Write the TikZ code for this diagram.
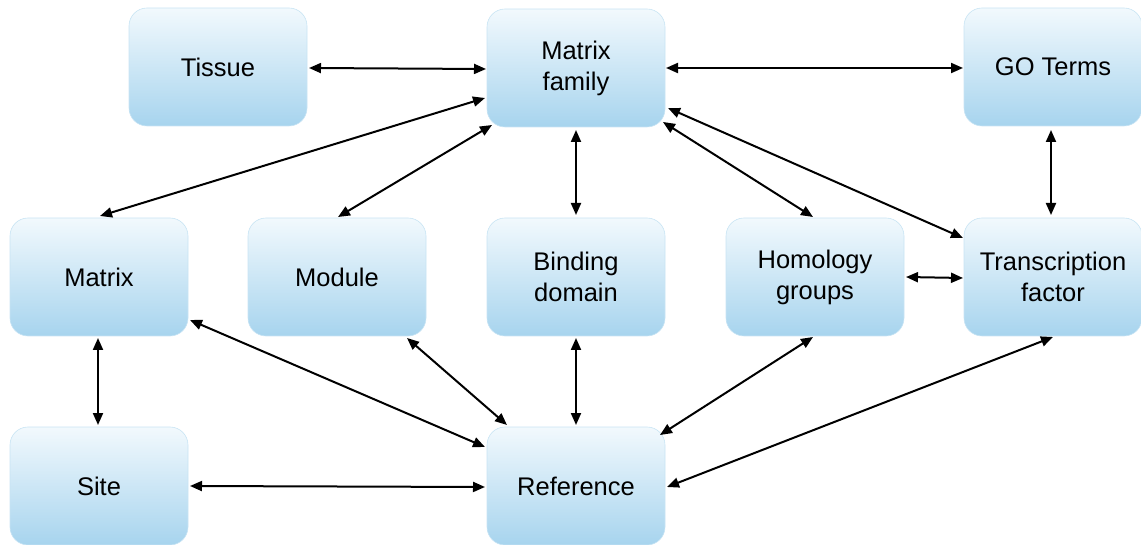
\documentclass[tikz,border=0pt]{standalone}
\usepackage{fontspec}
\setmainfont{Liberation Sans}
\usetikzlibrary{calc,arrows.meta}
\definecolor{boxtop}{HTML}{F2F9FD}
\definecolor{boxbot}{HTML}{A7D4EE}
\definecolor{boxline}{HTML}{C8E4F4}
\begin{document}
\begin{tikzpicture}[x=1pt,y=-1pt,
  entity/.style={rectangle, rounded corners=18pt, minimum width=178pt, minimum height=118pt,
    top color=boxtop, bottom color=boxbot, draw=boxline, line width=0.6pt,
    align=center, font=\fontsize{25.5}{31}\selectfont, text=black},
  link/.style={line width=2pt, {Triangle[length=12pt,width=10pt]}-{Triangle[length=12pt,width=10pt]}}]
\useasboundingbox (0,0) rectangle (1141,545);
% entities
\node[entity] (tissue) at (218,67) {Tissue};
\node[entity] (mf) at (576,68) {Matrix\\family};
\node[entity] (go) at (1053,67) {GO Terms};
\node[entity] (matrix) at (99,277) {Matrix};
\node[entity] (module) at (337,277) {Module};
\node[entity] (binding) at (576,277) {Binding\\domain};
\node[entity] (homology) at (815,277) {Homology\\groups};
\node[entity] (tf) at (1053,277) {Transcription\\factor};
\node[entity] (site) at (99,486) {Site};
\node[entity] (ref) at (576,486) {Reference};
% relations
\draw[link] ($(tissue)+(91,1)$) -- ($(mf)+(-90,1)$);
\draw[link] ($(mf)+(90,0)$) -- ($(go)+(-90,1)$);
\draw[link] ($(mf)+(-91,30)$) -- ($(matrix)+(1,-61)$);
\draw[link] ($(mf)+(-84,57)$) -- ($(module)+(1,-60)$);
\draw[link] ($(mf)+(0,62)$) -- ($(binding)+(0,-62)$);
\draw[link] ($(mf)+(87,54)$) -- ($(homology)+(-2,-60)$);
\draw[link] ($(mf)+(92,40)$) -- ($(tf)+(-90,-39)$);
\draw[link] ($(go)+(-2,63)$) -- ($(tf)+(-2,-62)$);
\draw[link] ($(homology)+(91,0)$) -- ($(tf)+(-90,1)$);
\draw[link] ($(matrix)+(-1,61)$) -- ($(site)+(-1,-61)$);
\draw[link] ($(matrix)+(91,43)$) -- ($(ref)+(-91,-39)$);
\draw[link] ($(module)+(70,61)$) -- ($(ref)+(-69,-61)$);
\draw[link] ($(binding)+(0,61)$) -- ($(ref)+(0,-61)$);
\draw[link] ($(homology)+(-2,60)$) -- ($(ref)+(84,-51)$);
\draw[link] ($(tf)+(0,60)$) -- ($(ref)+(91,1)$);
\draw[link] ($(site)+(91,0)$) -- ($(ref)+(-91,1)$);
\end{tikzpicture}
\end{document}
